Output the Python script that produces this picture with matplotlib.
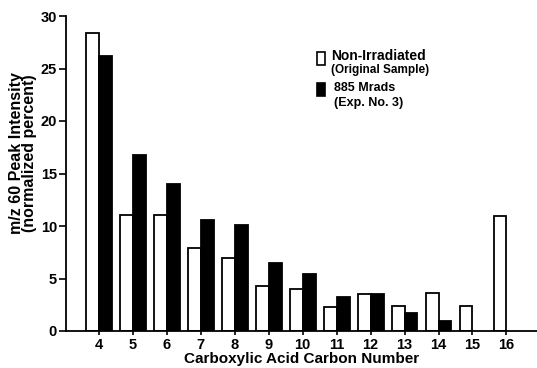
import numpy as np
import matplotlib.pyplot as plt
from matplotlib.patches import Rectangle

plt.rcParams['font.family'] = ['Liberation Sans', 'DejaVu Sans']
plt.rcParams['font.weight'] = 'bold'

carbons = [4, 5, 6, 7, 8, 9, 10, 11, 12, 13, 14, 15, 16]
non_irr = [28.4, 11.05, 11.05, 7.9, 7.0, 4.3, 4.0, 2.25, 3.5, 2.4, 3.6, 2.4, 10.95]
mrads = [26.2, 16.8, 14.0, 10.6, 10.05, 6.5, 5.45, 3.2, 3.5, 1.75, 0.95, 0, 0]

fig = plt.figure(figsize=(5.37, 3.68), dpi=100)
ax = fig.add_axes([66/537, 37/368, 1 - 66/537, 315/368])

x = np.array(carbons)
w = 0.38
ax.bar(x - w/2, non_irr, w, color='white', edgecolor='black', linewidth=1.3)
ax.bar(x[:11] + w/2, mrads[:11], w, color='black', edgecolor='black', linewidth=1.3)

ax.set_xlim(3.03, 16.9)
ax.set_ylim(0, 30)
ax.set_xticks(carbons)
ax.set_yticks([0, 5, 10, 15, 20, 25, 30])
ax.tick_params(axis='both', labelsize=10.5, width=1.2, length=5, direction='out')
ax.tick_params(axis='y', pad=1.5)
ax.tick_params(axis='x', length=3, pad=2)
for sp in ['top', 'right']:
    ax.spines[sp].set_visible(False)
for sp in ['left', 'bottom']:
    ax.spines[sp].set_linewidth(1.3)

ax.set_xlabel('Carboxylic Acid Carbon Number', fontsize=11, fontweight='bold', labelpad=0)
fig.text(23/537, 1 - 153/368, 'm/z 60 Peak Intensity\n(normalized percent)', fontsize=11.5,
         fontweight='bold', rotation=90, ha='center', va='center', linespacing=0.9)

# legend drawn by hand
fig.patches.append(Rectangle((317/537, 1 - 65/368), 8/537, 13/368, transform=fig.transFigure,
                             facecolor='white', edgecolor='black', linewidth=1.2))
fig.patches.append(Rectangle((317/537, 1 - 96/368), 8/537, 13/368, transform=fig.transFigure,
                             facecolor='black', edgecolor='black', linewidth=1.2))
fig.text(331/537, 1 - 56/368, 'Non-Irradiated', fontsize=10, fontweight='bold', va='center')
fig.text(331/537, 1 - 70/368, '(Original Sample)', fontsize=8.5, fontweight='bold', va='center')
fig.text(334/537, 1 - 88/368, '885 Mrads', fontsize=9, fontweight='bold', va='center')
fig.text(334/537, 1 - 103/368, '(Exp. No. 3)', fontsize=9, fontweight='bold', va='center')

fig.savefig('out.png', dpi=100)
